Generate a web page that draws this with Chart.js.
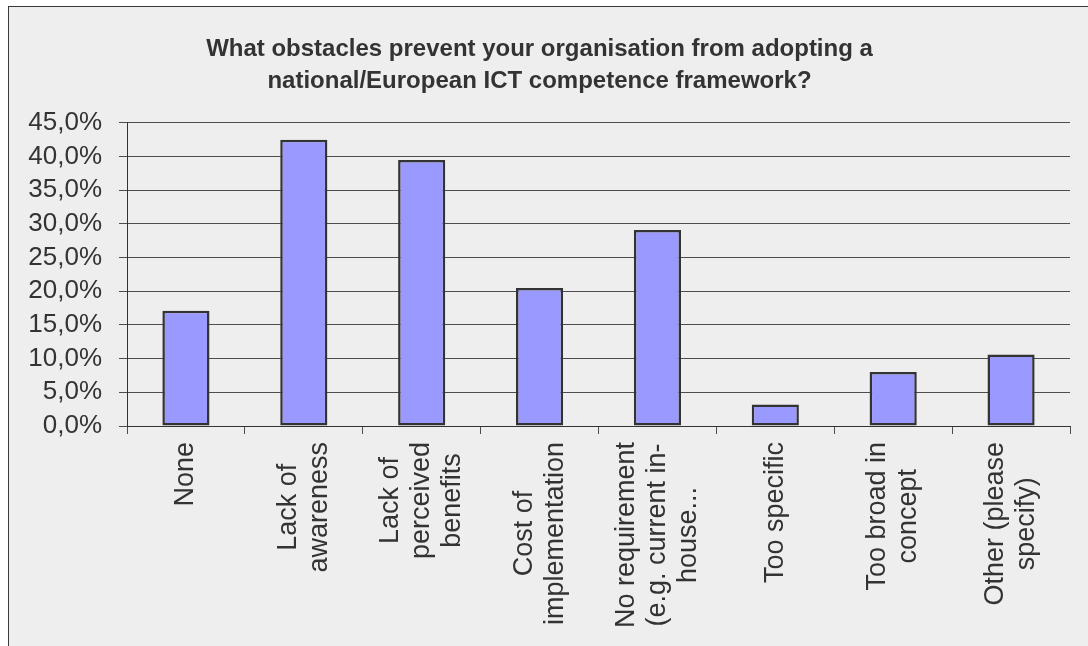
<!DOCTYPE html>
<html>
<head>
<meta charset="utf-8">
<script src="https://cdn.jsdelivr.net/npm/chart.js@4"></script>
<style>
    body { margin: 0; background: #ffffff; overflow: hidden; }
    #panel {
        position: absolute; left: 8px; top: 6px;
        width: 1079px; height: 640px;
        background: #eeeeee; border: 1px solid #3a3a3a;
    }
</style>
</head>
<body>
<div id="panel"><canvas id="myChart" width="1079" height="640"></canvas></div>
<script>
/* ========== Data =============== */

const titleLines = [
    'What obstacles prevent your organisation from adopting a',
    'national/European ICT competence framework?'
];

const categories = [
    ['None'],
    ['Lack of', 'awareness'],
    ['Lack of', 'perceived', 'benefits'],
    ['Cost of', 'implementation'],
    ['No requirement', '(e.g. current in-', 'house...'],
    ['Too specific'],
    ['Too broad in', 'concept'],
    ['Other (please', 'specify)']
];

const values = [17.1, 42.5, 39.5, 20.5, 29.1, 3.2, 8.0, 10.6];

const yTicks = [0, 5, 10, 15, 20, 25, 30, 35, 40, 45];

/* ========== Chart =============== */

const labelFont = '27px "Liberation Sans", Arial, sans-serif';
const labelLineHeight = 31;

// draws the rotated category labels, lines centred on each other like Excel does
const rotatedLabels = {
    id: 'rotatedLabels',
    afterDraw(chart) {
        const xs = chart.scales.x;
        const ctx = chart.ctx;
        ctx.save();
        ctx.font = labelFont;
        ctx.fillStyle = '#333333';
        ctx.textAlign = 'center';
        ctx.textBaseline = 'middle';
        for (var i = 0; i < categories.length; i++) {
            const lines = categories[i];
            const maxW = Math.max(...lines.map(l => ctx.measureText(l).width));
            const cx = xs.getPixelForTick(i);
            const top = xs.top + 16;
            ctx.save();
            ctx.translate(cx, top + maxW / 2);
            ctx.rotate(-Math.PI / 2);
            for (var j = 0; j < lines.length; j++) {
                ctx.fillText(lines[j], 0, (j - (lines.length - 1) / 2) * labelLineHeight);
            }
            ctx.restore();
        }
        ctx.restore();
    }
};

const ctxBars = document.getElementById('myChart');

new Chart(ctxBars, {
    type: 'bar',
    data: {
        labels: categories.map(c => c.join(' ')),
        datasets: [{
            label: '',
            data: values,
            backgroundColor: '#9999ff',
            borderColor: '#333333',
            borderWidth: 2.5,
            borderSkipped: false,
            categoryPercentage: 1,
            barPercentage: 0.4
        }]
    },
    options: {
        responsive: false,
        animation: false,
        layout: {
            padding: { left: 0, right: 18, top: 0, bottom: 0 }
        },
        plugins: {
            legend: { display: false },
            tooltip: { enabled: false },
            title: {
                display: true,
                text: titleLines,
                color: '#333333',
                font: { family: '"Liberation Sans", Arial, sans-serif', size: 24, weight: 'bold', lineHeight: 1.33 },
                padding: { top: 26, bottom: 26 }
            }
        },
        scales: {
            x: {
                grid: {
                    display: true,
                    drawOnChartArea: false,
                    drawTicks: true,
                    tickLength: 8,
                    offset: true,
                    color: '#4d4d4d'
                },
                border: { color: '#333333', width: 1 },
                ticks: { display: false },
                afterFit(scale) { scale.height = 221; }
            },
            y: {
                min: 0,
                max: 45,
                afterBuildTicks(scale) { scale.ticks = yTicks.map(v => ({ value: v })); },
                grid: { color: '#4d4d4d', tickLength: 8 },
                border: { color: '#333333', width: 1 },
                ticks: {
                    color: '#333333',
                    padding: 17,
                    autoSkip: false,
                    font: { family: '"Liberation Sans", Arial, sans-serif', size: 26, lineHeight: 1 },
                    callback: v => v.toFixed(1).replace('.', ',') + '%'
                },
                afterFit(scale) { scale.width = 118; }
            }
        }
    },
    plugins: [rotatedLabels]
});
</script>
</body>
</html>
